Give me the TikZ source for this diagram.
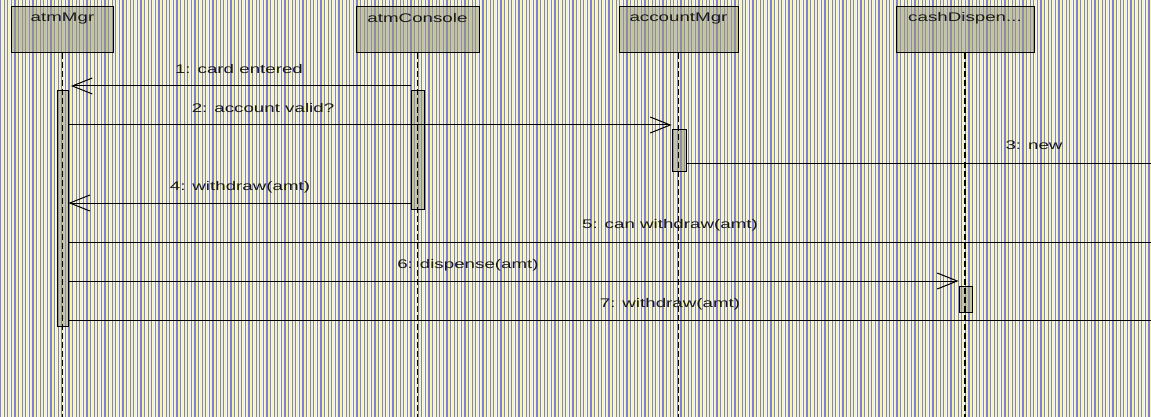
\documentclass[tikz,border=0pt]{standalone}
\usepackage{fontspec}
\setmainfont{Liberation Sans}
\usetikzlibrary{arrows.meta}
\definecolor{bgbase}{RGB}{246,246,236}
\definecolor{stripeblue}{RGB}{128,128,218}
\definecolor{stripeyellow}{RGB}{246,246,155}
\definecolor{boxfill}{RGB}{150,150,125}
\definecolor{txt}{RGB}{25,25,25}
\newcommand\hstretch[1]{\scalebox{1.5}[1]{#1}}
\tikzset{
  hdr/.style={draw=black, line width=1pt, fill=boxfill, fill opacity=0.5, text opacity=1, inner sep=0pt},
  hdrtxt/.style={font=\fontsize{12.5}{14}\selectfont, text=txt, inner sep=0pt},
  actbar/.style={draw=black, line width=1pt, fill=boxfill, fill opacity=0.5, inner sep=0pt},
  life/.style={draw=black, line width=1.2pt, dash pattern=on 6pt off 3pt},
  msg/.style={draw=black, line width=1pt},
  msgarrow/.style={msg, -{Straight Barb[length=20pt,width=16pt]}},
  lbl/.style={font=\fontsize{12.5}{14}\selectfont, text=txt, inner sep=0pt},
}
\begin{document}
\begin{tikzpicture}[x=1pt,y=-1pt]
\useasboundingbox (0,0) rectangle (1151,417);
\begin{scope}
\clip (0,0) rectangle (1151,417);
\fill[bgbase] (0,0) rectangle (1151,417);
\foreach \i in {0,...,320} {
  \fill[stripeblue] (\i*3.6,0) rectangle ++(1.1,417);
  \fill[stripeyellow] (\i*3.6+1.8,0) rectangle ++(1.3,417);
}
\end{scope}

% header boxes
\node[hdr, minimum width=102pt, minimum height=46pt] (mgr) at (62.5,30) {};
\node[hdr, minimum width=123pt, minimum height=46pt] (con) at (417.5,30) {};
\node[hdr, minimum width=119pt, minimum height=46pt] (acc) at (678.5,30) {};
\node[hdr, minimum width=138pt, minimum height=46pt] (cash) at (965,30) {};
\node[hdrtxt] (mgrT) at (62.5,18) {\hstretch{atmMgr}};
\node[hdrtxt] (conT) at (417.5,18) {\hstretch{atmConsole}};
\node[hdrtxt] (accT) at (678.5,18) {\hstretch{accountMgr}};
\node[hdrtxt] (cashT) at (965,18) {\hstretch{cashDispen...}};

% activation bars
\node[actbar, minimum width=11pt, minimum height=235pt] (mgrA) at (62.5,208.5) {};
\node[actbar, minimum width=13pt, minimum height=118pt] (conA) at (417.5,150) {};
\node[actbar, minimum width=14pt, minimum height=41pt] (accA) at (679,150.5) {};
\node[actbar, minimum width=13pt, minimum height=26pt] (cashA) at (965.5,299) {};

% lifelines
\coordinate (mgrEnd) at (62.5,417);
\coordinate (conEnd) at (417.5,417);
\coordinate (accEnd) at (678.5,417);
\coordinate (cashEnd) at (965,417);
\draw[life] (mgr.south) -- (mgrEnd);
\draw[life] (con.south) -- (conEnd);
\draw[life] (acc.south) -- (accEnd);
\draw[life] (cash.south) -- (cashEnd);

% message levels
\coordinate (y1) at (0,86);
\coordinate (y2) at (0,125);
\coordinate (y3) at (0,163);
\coordinate (y4) at (0,203);
\coordinate (y5) at (0,242);
\coordinate (y6) at (0,281);
\coordinate (y7) at (0,320);
\coordinate (edge3) at (1151,163);
\coordinate (edge5) at (1151,242);
\coordinate (edge7) at (1151,320);
\coordinate (tip1) at (71,86);

\draw[msgarrow] (conA.west |- y1) -- (tip1);
\draw[msgarrow] (mgrA.east |- y2) -- (accA.west |- y2);
\draw[msg] (accA.east |- y3) -- (edge3);
\draw[msgarrow] (conA.west |- y4) -- (mgrA.east |- y4);
\draw[msg] (mgrA.east |- y5) -- (edge5);
\draw[msgarrow] (mgrA.east |- y6) -- (cashA.west |- y6);
\draw[msg] (mgrA.east |- y7) -- (edge7);

% labels
\node[lbl] (l1) at (239,69) {\hstretch{1: card entered}};
\node[lbl] (l2) at (263,108) {\hstretch{2: account valid?}};
\node[lbl] (l3) at (1034,145) {\hstretch{3: new}};
\node[lbl] (l4) at (240,187) {\hstretch{4: withdraw(amt)}};
\node[lbl] (l5) at (670,225) {\hstretch{5: can withdraw(amt)}};
\node[lbl] (l6) at (468,265) {\hstretch{6: dispense(amt)}};
\node[lbl] (l7) at (670,304) {\hstretch{7: withdraw(amt)}};
\end{tikzpicture}
\end{document}
